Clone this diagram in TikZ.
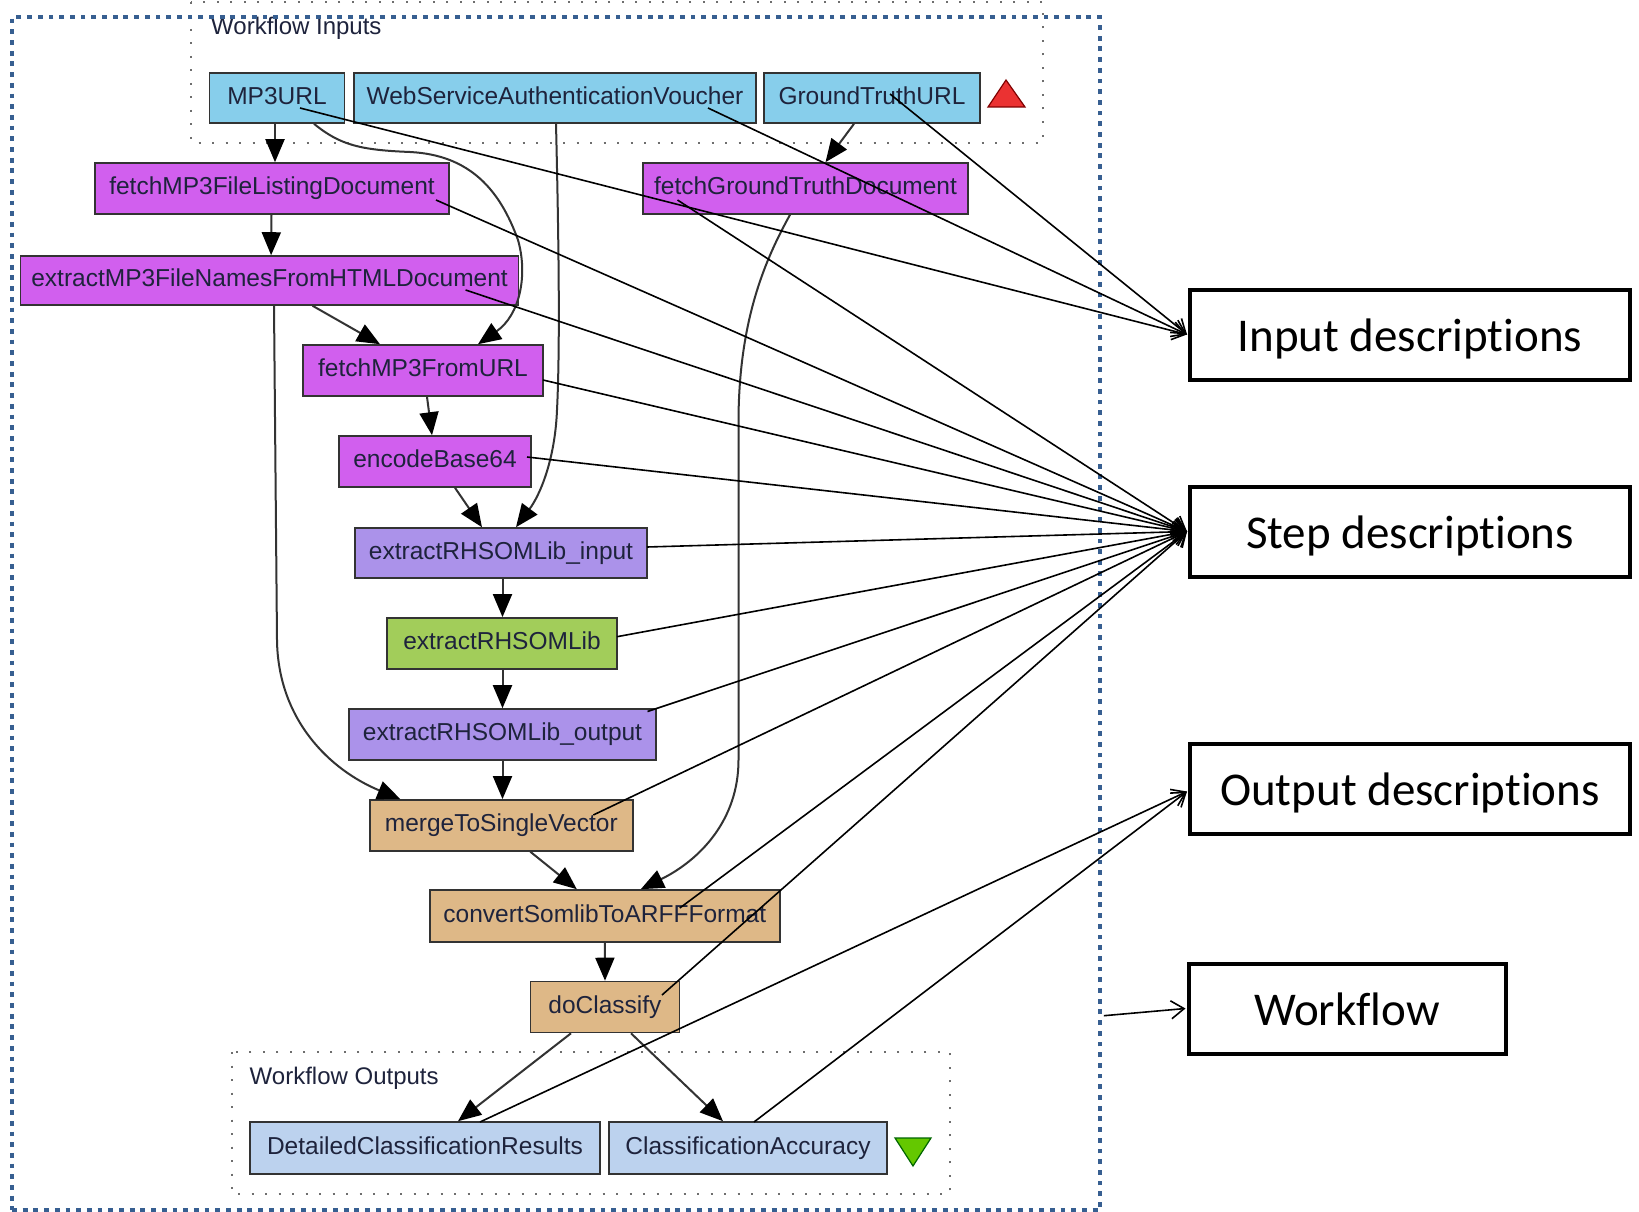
\documentclass[tikz,border=0pt]{standalone}
\usepackage{fontspec}
\usetikzlibrary{arrows.meta}
\newfontfamily\tavfont{Liberation Sans}
\newfontfamily\notefont[Ligatures=NoCommon]{Carlito}
\definecolor{inport}{HTML}{87CEEB}
\definecolor{outport}{HTML}{BCD2EE}
\definecolor{localw}{HTML}{D15FEE}
\definecolor{splitter}{HTML}{AB92EA}
\definecolor{wsdl}{HTML}{A2CD5A}
\definecolor{bean}{HTML}{DEB887}
\definecolor{frameblue}{RGB}{55,95,145}
\definecolor{labeltxt}{RGB}{30,35,60}
\definecolor{dotgray}{RGB}{110,110,110}
\definecolor{trired}{RGB}{235,50,50}
\definecolor{trigreen}{RGB}{100,200,0}

\begin{document}
\begin{tikzpicture}[x=1pt,y=-1pt,
  proc/.style={draw=black!80, line width=1.6pt, inner sep=0pt, minimum height=50pt,
    text=labeltxt, font=\tavfont\fontsize{24.5}{28}\selectfont,
    text height=17.5pt, text depth=5pt},
  grouplabel/.style={anchor=base west, inner sep=0pt, text=labeltxt,
    font=\tavfont\fontsize{24}{28}\selectfont},
  dotbox/.style={draw=dotgray, line width=2pt, dash pattern=on 2pt off 11.5pt},
  notebox/.style={draw=black, line width=4pt, inner sep=0pt, minimum width=440pt,
    minimum height=90pt, font=\notefont\fontsize{47}{56}\selectfont,
    text height=33pt, text depth=0pt},
  flow/.style={draw=black!80, line width=2pt,
    -{Triangle[length=23pt,width=19pt,color=black]}},
  note/.style={draw=black, line width=1.6pt, -{Straight Barb[length=13pt,width=18pt]}}]

\useasboundingbox (0,0) rectangle (1639,1212);
\fill[white] (0,0) rectangle (1639,1212);

% port groups
\draw[dotbox] (191,2) rectangle (1042.5,143);
\draw[dotbox] (231.6,1052) rectangle (950,1194);
\node[grouplabel] (inlabel) at (211,35) {Workflow Inputs};
\node[grouplabel] (outlabel) at (249.5,1084) {Workflow Outputs};

% workflow frame
\node[draw=frameblue, line width=3.8pt, dash pattern=on 4.8pt off 5.9pt,
      minimum width=1088pt, minimum height=1193pt, inner sep=0pt] (wf) at (556,613.7) {};

% input / output markers
\filldraw[fill=trired, draw=red!50!black, line width=1.2pt]
  (988,107) -- (1006,80) -- (1025,107) -- cycle;
\filldraw[fill=trigreen, draw=green!40!black, line width=1.2pt]
  (895,1138) -- (931,1138) -- (913,1166) -- cycle;

% workflow inputs
\node[proc, fill=inport, minimum width=135pt] (mp3url) at (277,98) {MP3URL};
\node[proc, fill=inport, minimum width=402pt] (voucher) at (555,98) {WebServiceAuthenticationVoucher};
\node[proc, fill=inport, minimum width=216pt] (gturl) at (872,98) {GroundTruthURL};

% processors
\node[proc, fill=localw, minimum width=354pt, minimum height=51pt] (listing) at (272,188.5) {fetchMP3FileListingDocument};
\node[proc, fill=localw, minimum width=325pt, minimum height=51pt] (fetchgt) at (805.5,188.5) {fetchGroundTruthDocument};
\node[proc, fill=localw, minimum width=498pt, minimum height=49pt] (names) at (269.6,280.5) {extractMP3FileNamesFromHTMLDocument};
\node[proc, fill=localw, minimum width=240pt, minimum height=51pt] (fetchmp3) at (423,370.5) {fetchMP3FromURL};
\node[proc, fill=localw, minimum width=192pt, minimum height=51pt] (encode) at (435,461.5) {encodeBase64};
\node[proc, fill=splitter, minimum width=292pt] (rhin) at (501,553) {extractRHSOMLib\_input};
\node[proc, fill=wsdl, minimum width=230pt, minimum height=51pt] (rhsom) at (502,643.4) {extractRHSOMLib};
\node[proc, fill=splitter, minimum width=307pt, minimum height=51pt] (rhout) at (502.5,734.5) {extractRHSOMLib\_output};
\node[proc, fill=bean, minimum width=263pt, minimum height=51pt] (merge) at (501.3,825.4) {mergeToSingleVector};
\node[proc, fill=bean, minimum width=350pt, minimum height=52pt] (arff) at (604.8,916) {convertSomlibToARFFFormat};
\node[proc, fill=bean, minimum width=149pt, minimum height=51pt] (classify) at (605,1007) {doClassify};

% workflow outputs
\node[proc, fill=outport, minimum width=350pt, minimum height=52pt] (detailed) at (425,1148) {DetailedClassificationResults};
\node[proc, fill=outport, minimum width=278pt, minimum height=52pt] (accuracy) at (748,1148) {ClassificationAccuracy};

% data links
\draw[flow] ([xshift=-2pt]mp3url.south) -- ([xshift=3pt]listing.north);
\draw[flow] ([xshift=-0.5pt]listing.south) -- ([xshift=1.5pt]names.north);
\draw[flow] ([xshift=37pt]mp3url.south) .. controls (340,145) and (360,150) .. (410,152)
  .. controls (470,155) and (500,190) .. (518,240)
  .. controls (528,275) and (520,315) .. ([xshift=55pt]fetchmp3.north);
\draw[flow] ([xshift=43pt]names.south) -- ([xshift=-43pt]fetchmp3.north);
\draw[flow] ([xshift=4.4pt]names.south) -- (277,640)
  .. controls (278,720) and (330,770) .. ([xshift=-101pt]merge.north);
\draw[flow] ([xshift=4pt]fetchmp3.south) -- ([xshift=-3pt]encode.north);
\draw[flow] ([xshift=20pt]encode.south) -- ([xshift=-19pt]rhin.north);
\draw[flow] ([xshift=1pt]voucher.south) .. controls (559,250) and (560,350) .. (557,410)
  .. controls (555,460) and (540,495) .. ([xshift=15pt]rhin.north);
\draw[flow] ([xshift=1.5pt]rhin.south) -- ([xshift=0.5pt]rhsom.north);
\draw[flow] ([xshift=0.5pt]rhsom.south) -- (rhout.north);
\draw[flow] (rhout.south) -- ([xshift=1.2pt]merge.north);
\draw[flow] ([xshift=29pt]merge.south) -- ([xshift=-28pt]arff.north);
\draw[flow] ([xshift=-15.5pt]fetchgt.south) .. controls (765,260) and (739,320) .. (738.5,420)
  -- (738.5,760) .. controls (738.5,820) and (700,860) .. ([xshift=36pt]arff.north);
\draw[flow] (arff.south) -- (classify.north);
\draw[flow] ([xshift=-34pt]classify.south) -- ([xshift=33pt]detailed.north);
\draw[flow] ([xshift=26pt]classify.south) -- ([xshift=-25pt]accuracy.north);
\draw[flow] ([xshift=-18pt]gturl.south) -- ([xshift=20pt]fetchgt.north);

% description boxes
\node[notebox] (inputd) at (1410,334.5) {Input descriptions};
\node[notebox] (stepd) at (1410,531.5) {Step descriptions};
\node[notebox] (outputd) at (1410,788.5) {Output descriptions};
\node[notebox, minimum width=317pt] (flowd) at (1347,1008.5) {Workflow};

% annotation pointers
\draw[note] ([shift={(23,10)}]mp3url.center) -- ([xshift=-1pt]inputd.west);
\draw[note] ([shift={(153,10)}]voucher.center) -- ([xshift=-1pt]inputd.west);
\draw[note] ([shift={(18,-4)}]gturl.center) -- ([xshift=-1pt]inputd.west);

\draw[note] ([shift={(164,11.5)}]listing.center) -- ([xshift=-1pt]stepd.west);
\draw[note] ([shift={(196,9.5)}]names.center) -- ([xshift=-1pt]stepd.west);
\draw[note] ([shift={(-128,11.5)}]fetchgt.center) -- ([xshift=-1pt]stepd.west);
\draw[note] ([shift={(120,9.5)}]fetchmp3.center) -- ([xshift=-1pt]stepd.west);
\draw[note] ([shift={(92,-4.5)}]encode.center) -- ([xshift=-1pt]stepd.west);
\draw[note] ([shift={(146,-6)}]rhin.center) -- ([xshift=-1pt]stepd.west);
\draw[note] ([shift={(115,-6.7)}]rhsom.center) -- ([xshift=-1pt]stepd.west);
\draw[note] ([shift={(145,-23)}]rhout.center) -- ([xshift=-1pt]stepd.west);
\draw[note] ([shift={(92,-10.4)}]merge.center) -- ([xshift=-1pt]stepd.west);
\draw[note] ([shift={(75,-8)}]arff.center) -- ([xshift=-1pt]stepd.west);
\draw[note] ([shift={(57,-12)}]classify.center) -- ([xshift=-1pt]stepd.west);

\draw[note] ([shift={(55,-26)}]detailed.center) -- ([shift={(-1,3)}]outputd.west);
\draw[note] ([shift={(6,-26)}]accuracy.center) -- ([shift={(-1,3)}]outputd.west);

\draw[note] ([shift={(2,402)}]wf.east) -- ([xshift=-1pt]flowd.west);
\end{tikzpicture}
\end{document}
